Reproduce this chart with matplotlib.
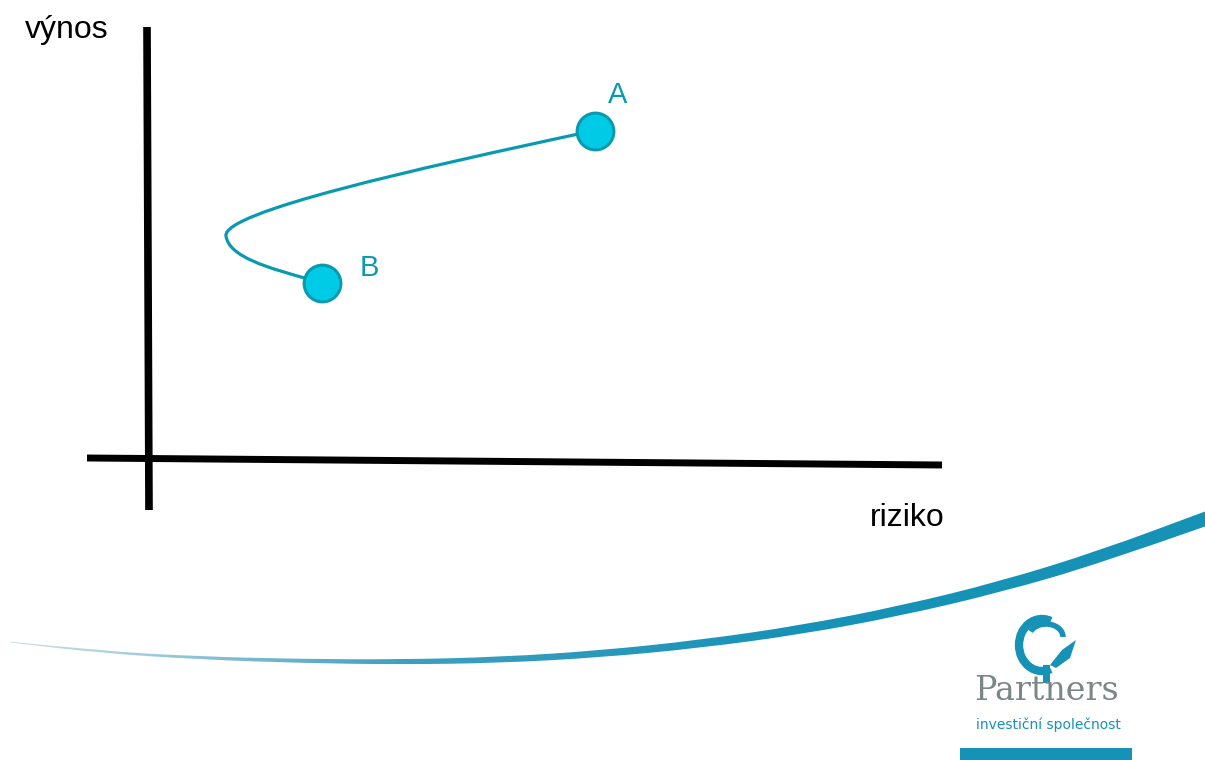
import numpy as np
import matplotlib
matplotlib.use('Agg')
import matplotlib.pyplot as plt
from matplotlib.path import Path
from matplotlib.patches import PathPatch, Arc, Rectangle, Polygon
from matplotlib.colors import LinearSegmentedColormap

# body oblouku (pixely obrazku, y dolu)
bod_a = (595, 131)
bod_b = (322, 283)
krivka_x = [583, 420, 222, 226, 229, 268, 312]
krivka_y = [133, 168, 212, 236, 257, 268, 280]

# osy
osa_y_x = [147, 149]
osa_y_y = [27, 510]
osa_x_x = [87, 942]
osa_x_y = [458, 465]

# pruh dole (stredova cara a tloustka)
pruh_x = [10, 100, 200, 300, 400, 500, 600, 700, 800, 900, 1000, 1100, 1205]
pruh_y = [642, 652, 658, 661, 662, 660, 654, 644, 630, 611, 587, 557, 519]
pruh_w = [1, 2, 3, 4, 5, 6, 7, 8, 9, 10, 11, 13, 15]

modra = '#0a9ab0'
vypln = '#00cbe6'
logo = '#1592b6'


def hladka(body):
    # kvadraticke vyhlazeni pres stredy useku
    vrcholy = [body[0]]
    kody = [Path.MOVETO]
    for i in range(1, len(body) - 1):
        stred = ((body[i][0] + body[i + 1][0]) / 2, (body[i][1] + body[i + 1][1]) / 2)
        vrcholy += [body[i], stred]
        kody += [Path.CURVE3, Path.CURVE3]
    vrcholy.append(body[-1])
    kody.append(Path.LINETO)
    return vrcholy, kody


fig = plt.figure(figsize=(12.05, 7.6), dpi=100)
ax = fig.add_axes([0, 0, 1, 1])
ax.set_xlim(0, 1205)
ax.set_ylim(760, 0)
ax.axis('off')

ax.plot(osa_y_x, osa_y_y, color='black', lw=5.5, solid_capstyle='butt')
ax.plot(osa_x_x, osa_x_y, color='black', lw=5, solid_capstyle='butt')

kody = [Path.MOVETO, Path.CURVE4, Path.CURVE4, Path.CURVE4,
        Path.CURVE4, Path.CURVE4, Path.CURVE4]
cesta = Path(list(zip(krivka_x, krivka_y)), kody)
ax.add_patch(PathPatch(cesta, fc='none', ec=modra, lw=2.3))

ax.scatter([bod_a[0], bod_b[0]], [bod_a[1], bod_b[1]], s=700,
           c=vypln, edgecolors=modra, linewidths=2.2, zorder=3)

ax.text(608, 95, 'A', color=modra, fontsize=21, family='Liberation Sans',
        ha='left', va='center')
ax.text(360, 268, 'B', color=modra, fontsize=21, family='Liberation Sans',
        ha='left', va='center')
ax.text(25, 30, 'výnos', fontsize=23, family='Liberation Sans',
        ha='left', va='center')
ax.text(870, 518, 'riziko', fontsize=23, family='Liberation Sans',
        ha='left', va='center')

# pruh s prechodem barvy
horni = [(x, y - w / 2) for x, y, w in zip(pruh_x, pruh_y, pruh_w)]
dolni = [(x, y + w / 2) for x, y, w in zip(pruh_x, pruh_y, pruh_w)][::-1]
v1, k1 = hladka(horni)
v2, k2 = hladka(dolni)
k2[0] = Path.LINETO
pruh = PathPatch(Path(v1 + v2 + [v1[0]], k1 + k2 + [Path.CLOSEPOLY]),
                 fc='none', ec='none')
ax.add_patch(pruh)
cmap = LinearSegmentedColormap.from_list('pruh', ['#d4e3ea', '#3f9fc0', logo, logo])
grad = ax.imshow(np.linspace(0, 1, 256)[None, :], cmap=cmap, aspect='auto',
                 extent=[0, 1205, 680, 500])
grad.set_clip_path(pruh)
ax.set_xlim(0, 1205)
ax.set_ylim(760, 0)

# logo
ax.add_patch(Arc((1042, 645), 46, 52, theta1=70, theta2=290,
                 color=logo, lw=6))
ax.add_patch(Arc((1046, 637), 34, 26, theta1=200, theta2=360,
                 color=logo, lw=4))
ax.add_patch(Polygon([[1050, 665], [1062, 650], [1076, 640], [1070, 658],
                      [1056, 668]], closed=True, color=logo, lw=0))
ax.add_patch(Rectangle((1043, 665), 7, 18, color=logo, lw=0))
ax.text(1046, 691, 'Partners', color='#7b8686', fontsize=24,
        family='DejaVu Serif', ha='center', va='center')
ax.text(1048, 725, 'investiční společnost', color=logo, fontsize=10,
        family='DejaVu Sans', ha='center', va='center')
ax.add_patch(Rectangle((960, 748), 172, 12, color=logo, lw=0))

fig.savefig('out.png', dpi=100)
